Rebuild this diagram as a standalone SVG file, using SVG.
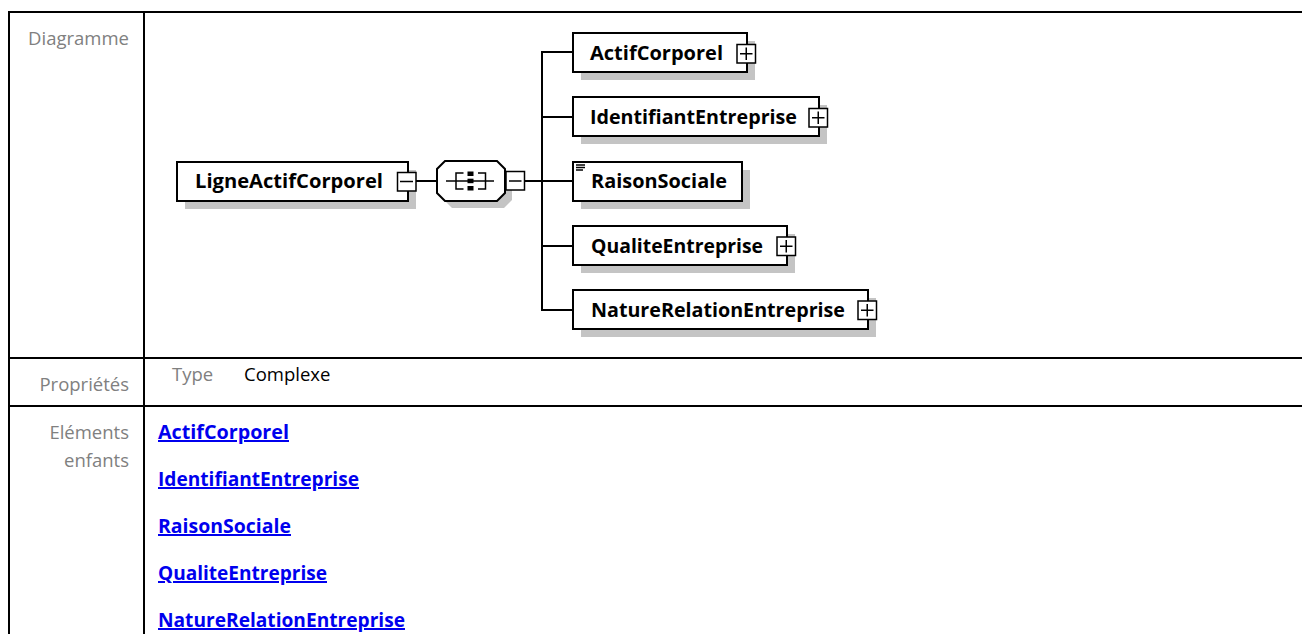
<svg xmlns="http://www.w3.org/2000/svg" width="1302" height="634" viewBox="0 0 1302 634">
<style>
.grid{stroke:#000;stroke-width:2;fill:none}
.lbl{font-family:"Open Sans","Noto Sans",sans-serif;font-size:18.5px;fill:#808080}
.val{font-family:"Open Sans","Noto Sans",sans-serif;font-size:18.5px;fill:#000}
.lnk{font-family:"Open Sans","Noto Sans",sans-serif;font-size:20px;font-weight:bold;fill:#0000ee;text-decoration:underline}
.box{fill:#fff;stroke:#000;stroke-width:2}
.shd{fill:#c4c4c4}
.nt{font-family:"Open Sans","Noto Sans",sans-serif;font-size:20px;font-weight:bold;fill:#000}
.btn{fill:#fff;stroke:#000;stroke-width:1.5}
.sg{stroke:#000;stroke-width:1.5;fill:none}
.con{stroke:#000;stroke-width:2;fill:none}
</style>

<g id="table">
<line class="grid" x1="8" y1="12" x2="1302" y2="12"/>
<line class="grid" x1="9" y1="11" x2="9" y2="634"/>
<line class="grid" x1="144" y1="11" x2="144" y2="634"/>
<line class="grid" x1="8" y1="358" x2="1302" y2="358"/>
<line class="grid" x1="8" y1="406" x2="1302" y2="406"/>
<text class="lbl" x="129" y="45" text-anchor="end">Diagramme</text>
<text class="lbl" x="129" y="391" text-anchor="end">Propriétés</text>
<text class="lbl" x="129" y="439" text-anchor="end">Eléments</text>
<text class="lbl" x="129" y="467" text-anchor="end">enfants</text>
<text class="lbl" x="172" y="381">Type</text>
<text class="val" x="244" y="381">Complexe</text>
<text class="lnk" x="158" y="439" textLength="131" lengthAdjust="spacingAndGlyphs">ActifCorporel</text>
<text class="lnk" x="158" y="486" textLength="201" lengthAdjust="spacingAndGlyphs">IdentifiantEntreprise</text>
<text class="lnk" x="158" y="533" textLength="133" lengthAdjust="spacingAndGlyphs">RaisonSociale</text>
<text class="lnk" x="158" y="580" textLength="169" lengthAdjust="spacingAndGlyphs">QualiteEntreprise</text>
<text class="lnk" x="158" y="627" textLength="247" lengthAdjust="spacingAndGlyphs">NatureRelationEntreprise</text>
</g>

<g id="connectors">
<line class="con" x1="416" y1="181" x2="437" y2="181"/>
<line class="con" x1="525" y1="181" x2="542" y2="181"/>
<line class="con" x1="542" y1="51" x2="542" y2="311"/>
<line class="con" x1="542" y1="52" x2="573" y2="52"/>
<line class="con" x1="542" y1="117" x2="573" y2="117"/>
<line class="con" x1="542" y1="181" x2="573" y2="181"/>
<line class="con" x1="542" y1="246" x2="573" y2="246"/>
<line class="con" x1="542" y1="310" x2="573" y2="310"/>
</g>

<g id="LigneActifCorporel">
<rect class="shd" x="185" y="170" width="231" height="39"/>
<rect class="box" x="177" y="162" width="231" height="39"/>
<text class="nt" x="195" y="188" textLength="188" lengthAdjust="spacingAndGlyphs">LigneActifCorporel</text>
<rect class="btn" x="397.5" y="172.5" width="18.5" height="18.5"/>
<line class="sg" x1="400" y1="181.5" x2="413" y2="181.5"/>
</g>

<g id="sequence">
<polygon class="shd" points="452,168 504,168 512,176 512,200 504,208 452,208 444,200 444,176"/>
<polygon class="box" points="445,161 497,161 505,169 505,193 497,201 445,201 437,193 437,169"/>
<line class="sg" x1="446" y1="181" x2="494" y2="181"/>
<path class="sg" d="M463.5 173 H456 V189 H463.5"/>
<path class="sg" d="M478 173 H485.5 V189 H478"/>
<rect x="467.5" y="171.5" width="6" height="4.5" fill="#000"/>
<rect x="467.5" y="178.7" width="6" height="4.5" fill="#000"/>
<rect x="467.5" y="186" width="6" height="4.5" fill="#000"/>
<rect class="btn" x="506" y="171.5" width="18.5" height="18.5"/>
<line class="sg" x1="509" y1="181" x2="521.5" y2="181"/>
</g>

<g id="ActifCorporel">
<rect class="shd" x="581" y="41" width="174" height="39"/>
<rect class="box" x="573" y="33" width="174" height="39"/>
<text class="nt" x="590" y="60" textLength="133" lengthAdjust="spacingAndGlyphs">ActifCorporel</text>
<rect class="btn" x="737" y="44.5" width="18.5" height="18.5"/>
<line class="sg" x1="740" y1="53.75" x2="752.5" y2="53.75"/>
<line class="sg" x1="746.25" y1="47.5" x2="746.25" y2="60"/>
</g>

<g id="IdentifiantEntreprise">
<rect class="shd" x="581" y="105" width="246" height="39"/>
<rect class="box" x="573" y="97" width="246" height="39"/>
<text class="nt" x="590" y="124" textLength="207" lengthAdjust="spacingAndGlyphs">IdentifiantEntreprise</text>
<rect class="btn" x="809" y="108.5" width="18.5" height="18.5"/>
<line class="sg" x1="812" y1="117.75" x2="824.5" y2="117.75"/>
<line class="sg" x1="818.25" y1="111.5" x2="818.25" y2="124"/>
</g>

<g id="RaisonSociale">
<rect class="shd" x="581" y="170" width="169" height="39"/>
<rect class="box" x="573" y="162" width="169" height="39"/>
<line class="sg" x1="576" y1="165" x2="585" y2="165" stroke-width="1.2"/>
<line class="sg" x1="576" y1="167.5" x2="585" y2="167.5" stroke-width="1.2"/>
<line class="sg" x1="576" y1="170" x2="583" y2="170" stroke-width="1.2"/>
<text class="nt" x="591" y="188" textLength="136" lengthAdjust="spacingAndGlyphs">RaisonSociale</text>
</g>

<g id="QualiteEntreprise">
<rect class="shd" x="581" y="234" width="214" height="39"/>
<rect class="box" x="573" y="226" width="214" height="39"/>
<text class="nt" x="591" y="253" textLength="172" lengthAdjust="spacingAndGlyphs">QualiteEntreprise</text>
<rect class="btn" x="777" y="237" width="18.5" height="18.5"/>
<line class="sg" x1="780" y1="246.25" x2="792.5" y2="246.25"/>
<line class="sg" x1="786.25" y1="240" x2="786.25" y2="252.5"/>
</g>

<g id="NatureRelationEntreprise">
<rect class="shd" x="581" y="298" width="295" height="39"/>
<rect class="box" x="573" y="290" width="295" height="39"/>
<text class="nt" x="591" y="317" textLength="254" lengthAdjust="spacingAndGlyphs">NatureRelationEntreprise</text>
<rect class="btn" x="858" y="301" width="18.5" height="18.5"/>
<line class="sg" x1="861" y1="310.25" x2="873.5" y2="310.25"/>
<line class="sg" x1="867.25" y1="304" x2="867.25" y2="316.5"/>
</g>
</svg>
